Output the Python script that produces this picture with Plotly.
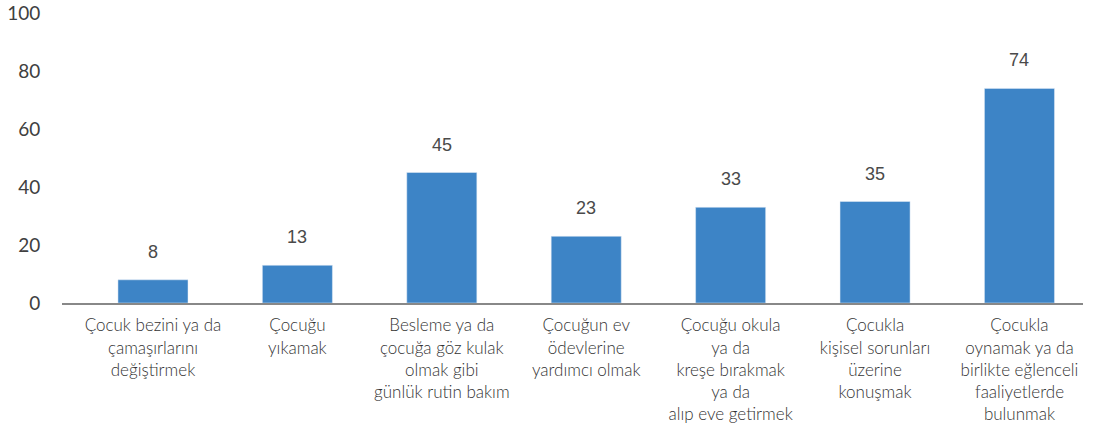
import plotly.graph_objects as go

categories = [
    "Çocuk bezini ya da<br>çamaşırlarını<br>değiştirmek",
    "Çocuğu<br>yıkamak",
    "Besleme ya da<br>çocuğa göz kulak<br>olmak gibi<br>günlük rutin bakım",
    "Çocuğun ev<br>ödevlerine<br>yardımcı olmak",
    "Çocuğu okula<br>ya da<br>kreşe bırakmak<br>ya da<br>alıp eve getirmek",
    "Çocukla<br>kişisel sorunları<br>üzerine<br>konuşmak",
    "Çocukla<br>oynamak ya da<br>birlikte eğlenceli<br>faaliyetlerde<br>bulunmak",
]
values = [8, 13, 45, 23, 33, 35, 74]
y_ticks = [0, 20, 40, 60, 80, 100]

x_idx = list(range(len(categories)))
BAR = "#3D84C6"
TXT = "#333333"
FONT = "Lato"

fig = go.Figure()
fig.add_trace(go.Bar(x=x_idx, y=values, marker_color=BAR, width=0.485,
                     hoverinfo="skip"))

for xi, v in zip(x_idx, values):
    fig.add_annotation(x=xi, y=v, text=str(v), showarrow=False,
                       yanchor="bottom", yshift=16,
                       font=dict(family="Liberation Sans, Arial", size=18, color="#4a4a4a"))

fig.update_layout(
    width=1098, height=439,
    margin=dict(l=62, r=15, t=13, b=136),
    plot_bgcolor="white", paper_bgcolor="white",
    showlegend=False,
    font=dict(family=FONT, color=TXT),
)
fig.update_xaxes(
    range=[-0.63, 6.44], automargin=False,
    tickmode="array", tickvals=x_idx, ticktext=categories,
    tickfont=dict(family=FONT, size=17, color=TXT, weight=300),
    showline=True, linecolor="#888888", linewidth=2,
    showgrid=False, zeroline=False,
    ticks="outside", ticklen=6, tickcolor="rgba(0,0,0,0)",
)
fig.update_yaxes(
    range=[0, 100], automargin=False, ticklabeloverflow="allow",
    tickmode="array", tickvals=y_ticks,
    tickfont=dict(family=FONT, size=19, color="#404040"),
    showgrid=False, zeroline=False, showline=False,
    ticks="outside", ticklen=17, tickcolor="rgba(0,0,0,0)",
)

fig.write_html("out.html", config={"displayModeBar": False},
               post_script="document.body.style.margin='0';")
